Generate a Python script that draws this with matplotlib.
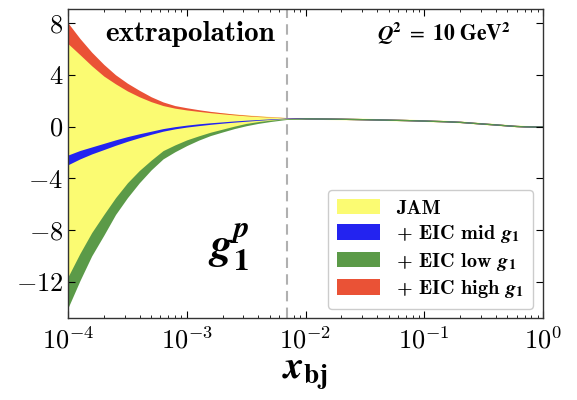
import numpy as np
import matplotlib
matplotlib.use('Agg')
import matplotlib.pyplot as plt
from matplotlib.font_manager import FontProperties

plt.rcParams['font.family'] = 'cmr10'
plt.rcParams['mathtext.fontset'] = 'cm'
plt.rcParams['axes.formatter.use_mathtext'] = True

# small-x region (extrapolation), x_bj from 1e-4 up to the dashed line
x_small = [1.0e-4, 1.26e-4, 1.58e-4, 2.0e-4, 2.51e-4, 3.16e-4, 3.98e-4, 5.01e-4, 6.31e-4,
           7.94e-4, 1.0e-3, 1.26e-3, 1.58e-3, 2.0e-3, 2.51e-3, 3.16e-3, 3.98e-3, 5.01e-3,
           6.31e-3, 7.0e-3]
# large-x region, all bands sit on top of each other
x_large = [1.0e-2, 1.5e-2, 2.0e-2, 3.0e-2, 5.0e-2, 7.0e-2, 0.1, 0.15, 0.2, 0.3, 0.4,
           0.5, 0.6, 0.7, 0.85, 1.0]

jam_lo_s = [-11.8, -10.0, -8.4, -7.0, -5.7, -4.55, -3.6, -2.8, -2.05, -1.6, -1.2, -0.85,
            -0.55, -0.3, -0.05, 0.17, 0.33, 0.45, 0.55, 0.58]
jam_hi_s = [6.5, 5.65, 4.8, 4.0, 3.4, 2.85, 2.4, 2.0, 1.7, 1.5, 1.36, 1.25,
            1.15, 1.06, 0.98, 0.91, 0.84, 0.78, 0.72, 0.70]
mid_lo_s = [-2.95, -2.5, -2.12, -1.78, -1.45, -1.14, -0.86, -0.6, -0.36, -0.18, -0.04, 0.07,
            0.17, 0.26, 0.34, 0.41, 0.48, 0.54, 0.6, 0.62]
mid_hi_s = [-2.2, -1.85, -1.58, -1.3, -1.03, -0.78, -0.56, -0.36, -0.16, -0.01, 0.11, 0.21,
            0.29, 0.36, 0.43, 0.49, 0.54, 0.59, 0.64, 0.66]
low_lo_s = [-14.0, -11.9, -10.0, -8.4, -6.8, -5.5, -4.35, -3.35, -2.5, -1.95, -1.47, -1.05,
            -0.7, -0.42, -0.16, 0.06, 0.24, 0.38, 0.5, 0.55]
low_hi_s = [-11.6, -9.8, -8.2, -6.8, -5.5, -4.35, -3.4, -2.6, -1.86, -1.42, -1.03, -0.72,
            -0.44, -0.2, 0.03, 0.24, 0.38, 0.49, 0.57, 0.61]
high_lo_s = [6.4, 5.55, 4.7, 3.9, 3.3, 2.75, 2.3, 1.92, 1.62, 1.42, 1.28, 1.17,
             1.07, 0.98, 0.9, 0.83, 0.77, 0.73, 0.69, 0.67]
high_hi_s = [8.0, 6.8, 5.75, 4.8, 4.0, 3.35, 2.8, 2.3, 1.9, 1.62, 1.45, 1.3,
             1.17, 1.06, 0.96, 0.88, 0.81, 0.76, 0.71, 0.69]

jam_lo_l = [0.56, 0.54, 0.53, 0.5, 0.46, 0.43, 0.39, 0.34, 0.29, 0.17, 0.09,
            0.02, -0.03, -0.055, -0.07, -0.07]
jam_hi_l = [0.70, 0.69, 0.67, 0.64, 0.60, 0.57, 0.53, 0.48, 0.43, 0.31, 0.23,
            0.16, 0.11, 0.085, 0.07, 0.07]
eic_lo_l = [0.58, 0.565, 0.55, 0.52, 0.48, 0.45, 0.41, 0.36, 0.31, 0.19, 0.11,
            0.04, -0.01, -0.035, -0.05, -0.05]
eic_hi_l = [0.68, 0.665, 0.65, 0.62, 0.58, 0.55, 0.51, 0.46, 0.41, 0.29, 0.21,
            0.14, 0.09, 0.065, 0.05, 0.05]

x_extrap = 0.007

x = x_small + x_large
bands = {
    'JAM': (jam_lo_s + jam_lo_l, jam_hi_s + jam_hi_l, '#fbfb72'),
    'high': (high_lo_s + eic_lo_l, high_hi_s + eic_hi_l, '#ea5236'),
    'mid': (mid_lo_s + eic_lo_l, mid_hi_s + eic_hi_l, '#2323f0'),
    'low': (low_lo_s + eic_lo_l, low_hi_s + eic_hi_l, '#5b9a48'),
}
labels = {
    'JAM': 'JAM',
    'mid': r'+ EIC mid $\mathbfit{g}_{\mathbf{1}}$',
    'low': r'+ EIC low $\mathbfit{g}_{\mathbf{1}}$',
    'high': r'+ EIC high $\mathbfit{g}_{\mathbf{1}}$',
}

fig = plt.figure(figsize=(5.77, 4.0), dpi=100)
ax = fig.add_axes([0.118, 0.205, 0.823, 0.773])

handles = {}
for key, (lo, hi, col) in bands.items():
    handles[key] = ax.fill_between(x, lo, hi, color=col, lw=0, label=labels[key])

ax.axvline(x_extrap, color='#b0b0b0', ls=(0, (5, 3)), lw=1.5)

ax.set_xscale('log')
ax.set_xlim(1e-4, 1)
ax.set_ylim(-14.8, 9.1)
ax.set_yticks([-12, -8, -4, 0, 4, 8])
ax.tick_params(which='both', direction='in', top=True, right=True, labelsize=19)
ax.tick_params(which='major', length=5)
ax.tick_params(which='minor', length=2.5)
ax.tick_params(axis='x', pad=6)
for s in ax.spines.values():
    s.set_linewidth(1.0)
    s.set_color('#333333')

ax.set_xlabel(r'$\mathbfit{x}_{\mathbf{bj}}$', fontsize=28, math_fontfamily='stix', labelpad=2)

ax.text(0.078, 0.919, 'extrapolation', transform=ax.transAxes, family='cmb10',
        fontsize=21, ha='left', va='center')
ax.text(0.65, 0.922, r'$\mathbfit{Q}^{\mathbf{2}}\ =\ \mathbf{10\ GeV}^{\mathbf{2}}$',
        transform=ax.transAxes, fontsize=15.5, ha='left', va='center', math_fontfamily='stix')
ax.text(0.337, 0.23, r'$\mathbfit{g}_{\mathbf{1}}^{\mathbfit{p}}$', transform=ax.transAxes,
        fontsize=32, ha='center', va='center', math_fontfamily='stix')

order = ['JAM', 'mid', 'low', 'high']
leg = ax.legend([handles[k] for k in order], [labels[k] for k in order],
                loc='lower right', bbox_to_anchor=(0.979, 0.029), borderaxespad=0,
                prop=FontProperties(family='cmb10', size=14.5, math_fontfamily='stix'),
                handlelength=2.1, handleheight=0.8, labelspacing=0.27,
                borderpad=0.45, handletextpad=0.8, fancybox=True, framealpha=1,
                edgecolor='#cccccc')

fig.savefig('out.png', dpi=100)
